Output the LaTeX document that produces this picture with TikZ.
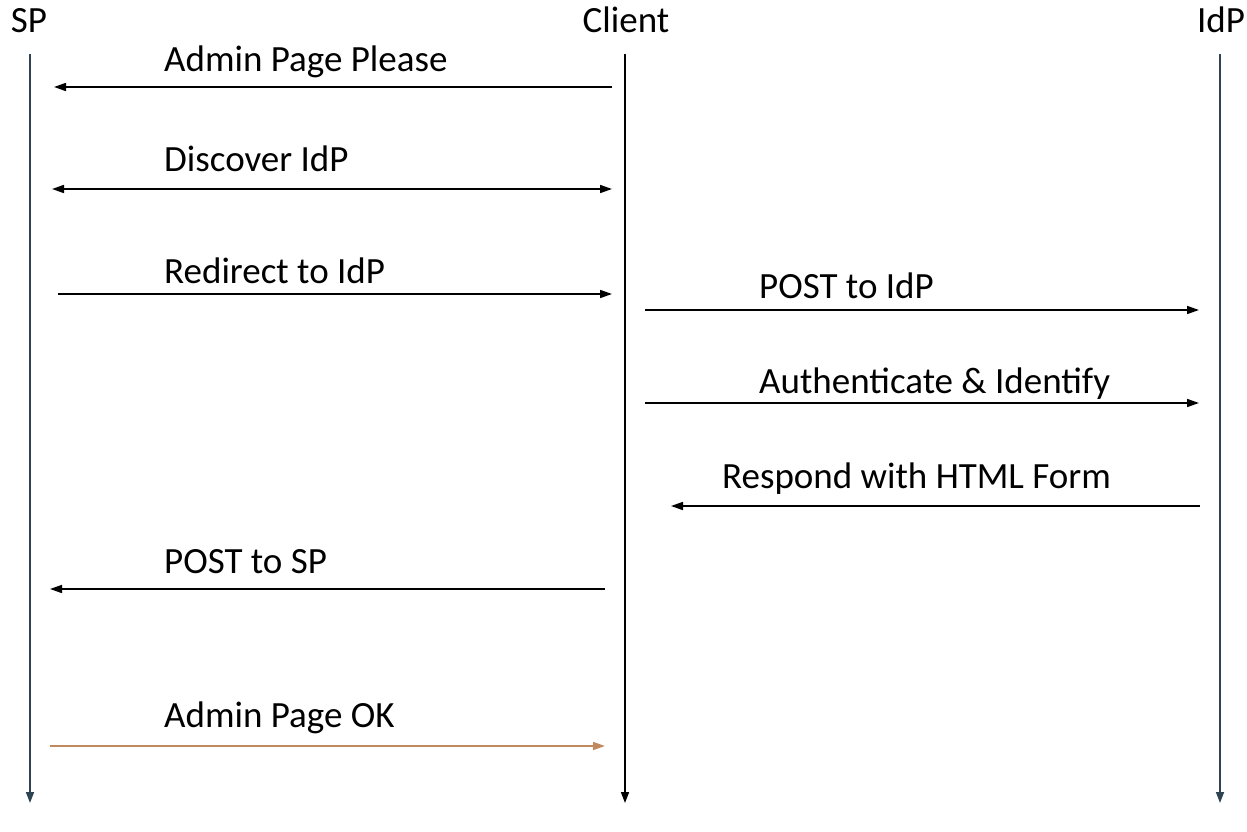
\documentclass[tikz,border=0pt]{standalone}
\usepackage{fontspec}
\setmainfont{Carlito}
\usetikzlibrary{arrows.meta}
\definecolor{lifeslate}{HTML}{2E4452}
\definecolor{okbrown}{HTML}{C08A5E}
\tikzset{
  actor/.style={anchor=base, inner sep=0pt, font=\fontsize{37}{44}\selectfont},
  msglabel/.style={anchor=base west, inner sep=0pt, font=\fontsize{37}{44}\selectfont},
  lifeline/.style={line width=1.6pt, -{Triangle[length=11pt,width=8pt]}},
  msg/.style={line width=1.6pt, -{Triangle[length=12pt,width=8pt]}},
  bimsg/.style={line width=1.6pt, {Triangle[length=12pt,width=8pt]}-{Triangle[length=12pt,width=8pt]}},
}
\begin{document}
\begin{tikzpicture}[x=1pt,y=-1pt]
  \useasboundingbox (0,0) rectangle (1247,832);

  % participants
  \node[actor] (sp) at (29,33) {SP};
  \node[actor] (client) at (626,33) {Client};
  \node[actor] (idp) at (1221,33) {IdP};

  % lifelines
  \coordinate (sptop) at (30,54);
  \coordinate (spend) at (30,803);
  \coordinate (cltop) at (625,54);
  \coordinate (clend) at (625,803);
  \coordinate (idptop) at (1220,54);
  \coordinate (idpend) at (1220,803);
  \draw[lifeline, lifeslate] (sptop) -- (spend);
  \draw[lifeline, black] (cltop) -- (clend);
  \draw[lifeline, lifeslate] (idptop) -- (idpend);

  % message end points
  \coordinate (a1) at (612,87);   \coordinate (b1) at (54,87);
  \coordinate (a2) at (52,189);   \coordinate (b2) at (612,189);
  \coordinate (a3) at (58,294);   \coordinate (b3) at (612,294);
  \coordinate (a4) at (645,310);  \coordinate (b4) at (1199,310);
  \coordinate (a5) at (645,403);  \coordinate (b5) at (1199,403);
  \coordinate (a6) at (1200,506); \coordinate (b6) at (671,506);
  \coordinate (a7) at (605,589);  \coordinate (b7) at (50,589);
  \coordinate (a8) at (50,746);   \coordinate (b8) at (605,746);

  % messages
  \draw[msg] (a1) -- (b1);
  \draw[bimsg] (a2) -- (b2);
  \draw[msg] (a3) -- (b3);
  \draw[msg] (a4) -- (b4);
  \draw[msg] (a5) -- (b5);
  \draw[msg] (a6) -- (b6);
  \draw[msg] (a7) -- (b7);
  \draw[msg, okbrown] (a8) -- (b8);

  % message labels
  \node[msglabel] (l1) at (164,72) {Admin Page Please};
  \node[msglabel] (l2) at (164,171) {Discover IdP};
  \node[msglabel] (l3) at (164,283) {Redirect to IdP};
  \node[msglabel] (l4) at (759,298) {POST to IdP};
  \node[msglabel] (l5) at (759,393) {Authenticate \& Identify};
  \node[msglabel] (l6) at (722,488) {Respond with HTML Form};
  \node[msglabel] (l7) at (164,573) {POST to SP};
  \node[msglabel] (l8) at (164,727) {Admin Page OK};
\end{tikzpicture}
\end{document}
